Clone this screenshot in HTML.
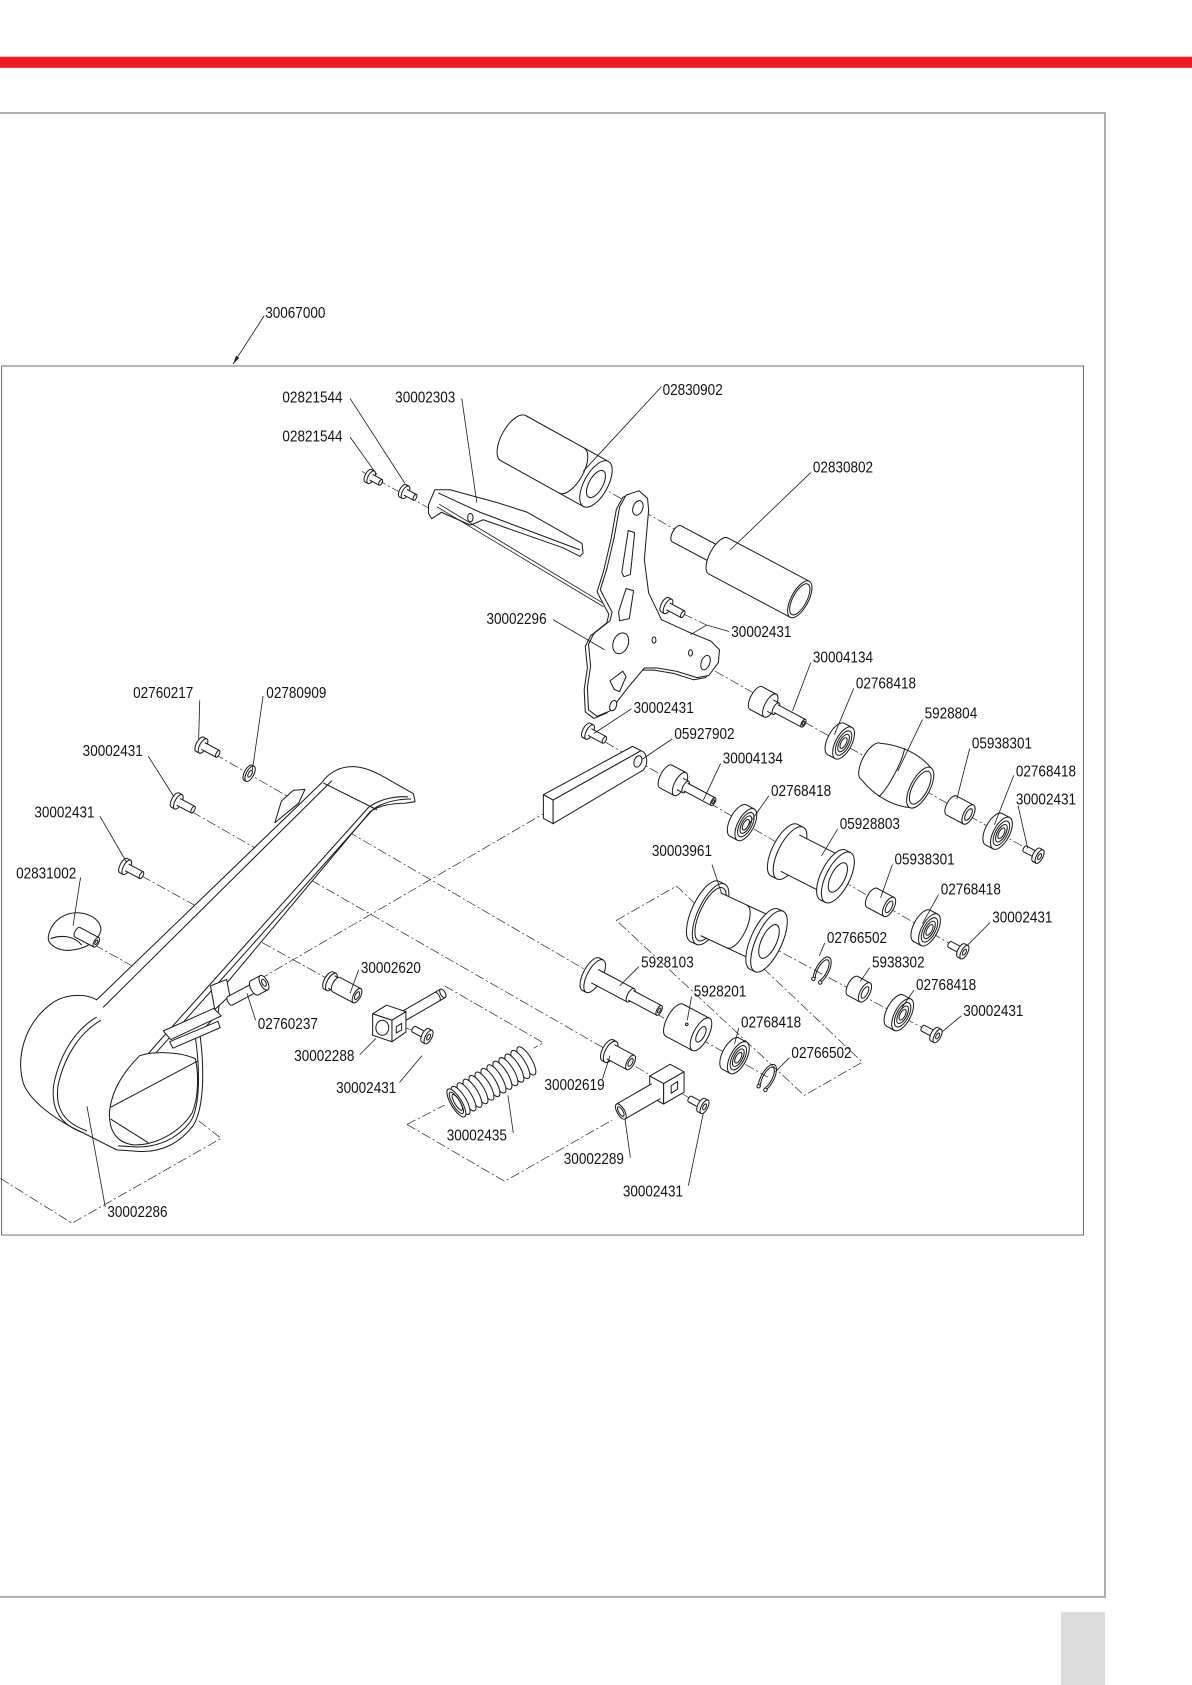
<!DOCTYPE html>
<html><head><meta charset="utf-8">
<style>
html,body{margin:0;padding:0;background:#fff;}
svg{display:block}
.d{fill:none;stroke:#2a2a2a;stroke-width:.65;stroke-dasharray:9 2.5 2 2.5}
.l{fill:none;stroke:#1a1a1a;stroke-width:.75}
text{font-family:"Liberation Sans",Arial,sans-serif;font-size:15px;fill:#111;stroke:none}
</style></head>
<body>
<svg width="1192" height="1685" viewBox="0 0 1110 1569" preserveAspectRatio="none" xmlns="http://www.w3.org/2000/svg">
<defs>
<g id="brg"><ellipse cx="-4" rx="7.5" ry="16.5"/><path d="M-4,-16.5H4V16.5H-4"/><ellipse cx="4" rx="7.5" ry="16.5"/><ellipse cx="4" rx="5.6" ry="12.5"/><ellipse cx="4" rx="3.9" ry="9" fill="none"/><ellipse cx="4" rx="2.4" ry="5.5"/></g>
<g id="scrR"><ellipse cx="-12" rx="1.4" ry="3"/><path d="M-12,-3H0V3H-12"/><ellipse rx="3" ry="7"/><path d="M0,-7H3.5V7H0"/><ellipse cx="3.5" rx="3" ry="7"/><ellipse cx="3.5" rx="1.4" ry="3"/></g>
<g id="scrL"><ellipse rx="3.2" ry="7.5"/><path d="M0,-7.5H3.5V7.5H0"/><ellipse cx="3.5" rx="3.2" ry="7.5"/><path d="M3.5,-3.5H19V3.5H3.5"/><ellipse cx="19" rx="1.5" ry="3.5"/></g>
<g id="nut"><ellipse rx="5" ry="12"/><path d="M0,-12H15V12H0"/><ellipse cx="15" rx="5" ry="12"/><path d="M15,-6H21V6H15"/><ellipse cx="21" rx="2.5" ry="6"/><path d="M21,-4H50V4H21"/><ellipse cx="50" rx="1.8" ry="4"/><ellipse cx="50" rx="0.9" ry="2"/></g>
<g id="clip"><path fill="none" d="M-3,13 A6,14 0 1 1 3,13"/><path fill="none" d="M-2.3,10 A4.3,11 0 1 1 2.3,10"/><circle cx="-3.6" cy="11.5" r="1.6"/><circle cx="3.6" cy="11.5" r="1.6"/></g>
</defs>

<!-- page furniture -->
<rect x="0" y="52.8" width="1110" height="10.4" fill="#ed1c24"/>
<rect x="-5" y="105.2" width="1034" height="1381.8" fill="none" stroke="#adadad" stroke-width="1.9"/>
<rect x="988" y="1501" width="41" height="68" fill="#dcdcdc"/>
<rect x="1.5" y="340.8" width="1007.5" height="809.2" fill="none" stroke="#555" stroke-width=".8"/>

<!-- axis / group lines -->
<path class="d" d="M337,439 L410,479"/>
<path class="d" d="M557,452 L632,495"/>
<path class="d" d="M652,617 L968,797"/>
<path class="d" d="M622,565 L658,582"/>
<path class="d" d="M550,683 L897,886"/>
<path class="d" d="M555,912 L715,1003"/>
<path class="d" d="M659,850 L872,964"/>
<path class="d" d="M578,985 L655,1030"/>
<path class="d" d="M360,950 L398,965"/>
<path class="d" d="M186,694 L552,907"/>
<path class="d" d="M165,748 L566,978"/>
<path class="d" d="M118,808 L308,913"/>
<path class="d" d="M74,872 L124,900"/>
<path class="d" d="M214,928 L509,756"/>
<path class="d" d="M574,857 L630,825 L803,989 L749,1020 Z"/>
<path class="d" d="M414,918 L506,971 L497,976 M379,1047 L414,1029 M379,1047 L470,1100 L570,1043"/>
<path class="d" d="M84,965 L206,1060 L67,1139 L0,1097"/>

<g fill="#fff" stroke="#1a1a1a" stroke-width=".95" stroke-linejoin="round">

<!-- belt guard 30002286 -->
<path d="M299.5,729 C306,719 318,713 331,714 C342,715 352,720 362,726 L385,739 L386.5,746.5 L377,748 C366,748 352,750 344.5,756 L214,912 L206,921 L203,944 L186,962 C190,990 191,1030 180,1048 C168,1064 150,1074 127,1072 L108.6,1070.7 L77.6,1055 C50,1042 28,1025 21.7,1008.7 C15,985 22,955 46,936 C58,926 78,924 90,931 Z"/>
<path fill="none" d="M301,729 L351,754"/>
<path fill="none" d="M309,727 L96,938"/>
<path fill="none" d="M383,744 C370,744 356,747 347,754 L150,975 C128,1000 112,1020 106,1035"/>
<path fill="none" d="M380,742 C366,741 352,745 343,752 L146,972 C124,997 108,1018 102,1034"/>
<path fill="none" d="M182,966 C186,995 187,1030 177,1045 C165,1060 148,1068 128,1068 L110,1067"/>
<path d="M130,983 C115,998 104,1015 102,1035 C101,1052 108,1064 124,1066 C145,1067 168,1054 179,1036 C185,1022 185,1000 182,986 C170,980 145,978 130,983 Z"/>
<path fill="none" d="M103,1031 L184,988 M103,1042 L138,1064"/>
<path fill="none" d="M90,947 C68,960 55,985 50,1010 C47,1035 58,1048 78,1055"/>
<path fill="none" d="M94,950 C72,963 59,987 54,1011 C51,1034 61,1046 81,1053"/>
<polygon points="152,960 199,939 206,946 159,968"/>
<polygon points="158,970 203,951 205,957 161,976"/>
<polygon points="196,918 211,912 214,927 200,940"/>
<polygon points="256,766 262,746 273,736 284,735 278,748"/>

<!-- knob 02831002 -->
<path d="M45,872 C48,856 62,849 74,850 C86,851 94,858 94,866 C92,876 80,884 64,885 C54,885 44,880 45,872 Z"/>
<path fill="none" d="M47,874 C58,870 70,872 76,880"/>
<g transform="translate(72,868) rotate(28)"><ellipse rx="2.2" ry="5"/><path d="M0,-5H20V5H0"/><ellipse cx="20" rx="2.2" ry="5"/><ellipse cx="20" rx="1" ry="2.3"/></g>

<!-- left screws & washer -->
<use href="#scrL" transform="translate(163,745) rotate(28)"/>
<use href="#scrL" transform="translate(115,806) rotate(28)"/>
<use href="#scrL" transform="translate(186,693) rotate(28)"/>
<g transform="translate(232,720) rotate(28)"><ellipse cx="-1" rx="3.5" ry="8"/><path d="M-1,-8H1V8H-1"/><ellipse cx="1" rx="3.5" ry="8"/><ellipse cx="1" rx="1.6" ry="3.5"/></g>

<!-- 02821544 bolts, plate 30002303 -->
<g transform="translate(343,443) rotate(28)"><ellipse rx="3" ry="6.5"/><path d="M0,-6.5H3V6.5H0"/><ellipse cx="3" rx="3" ry="6.5"/><path d="M3,-3H13V3H3"/><ellipse cx="13" rx="1.4" ry="3"/></g>
<g transform="translate(375,457) rotate(28)"><ellipse rx="3" ry="6.5"/><path d="M0,-6.5H3V6.5H0"/><ellipse cx="3" rx="3" ry="6.5"/><path d="M3,-3H13V3H3"/><ellipse cx="13" rx="1.4" ry="3"/></g>
<polygon points="405,456 419,456 463,468 491,477 542,506 543,515 540,518 524,510 450,484 438,489 411,477 402,483 399,478 399,470"/>
<path fill="none" d="M408,459 L447,477 L540,512"/>
<path class="l" d="M407,472 L562,565 M409,469.5 L563,562.5"/>
<ellipse cx="438" cy="482" rx="2.5" ry="4"/>

<!-- cylinder 02830902 -->
<g transform="translate(478,408) rotate(29)"><ellipse rx="11" ry="24"/><path d="M0,-24H88V24H0"/><path fill="none" d="M62,-24 A11,24 0 0 1 62,24"/><ellipse cx="88" rx="11" ry="24"/><ellipse cx="88" rx="6.5" ry="14"/></g>

<!-- bracket plate 30002296 -->
<polygon transform="translate(-3,2)" points="577,472 583,461 595,457 603,464 604,475 600,521 604,552 616,577 640,588 662,597 670,605 669,617 660,629 649,631 630,625 612,622 600,622 585,640 568,662 556,667 548,661 547,640 550,620 548,600 553,590 568,578 570,570 562,555 559,549 565,530 572,500"/>
<polygon points="577,472 583,461 595,457 603,464 604,475 600,521 604,552 616,577 640,588 662,597 670,605 669,617 660,629 649,631 630,625 612,622 600,622 585,640 568,662 556,667 548,661 547,640 550,620 548,600 553,590 568,578 570,570 562,555 559,549 565,530 572,500"/>
<ellipse cx="594" cy="473" rx="4.5" ry="7" transform="rotate(20 594 473)"/>
<polygon points="585,494 591,496 587,535 581,537 579,533"/>
<polygon points="583,548 590,550 586,576 577,578 576,570"/>
<ellipse cx="578" cy="599" rx="7" ry="10" transform="rotate(20 578 599)"/>
<polygon points="572,642 568,634 580,625 583,630 577,644"/>
<ellipse cx="571" cy="657" rx="3" ry="5" transform="rotate(20 571 657)"/>
<ellipse cx="609" cy="596" rx="1.8" ry="3"/>
<ellipse cx="643" cy="608" rx="1.8" ry="3"/>
<ellipse cx="657" cy="617" rx="4" ry="7" transform="rotate(20 657 617)"/>

<!-- 02830802 -->
<g transform="translate(630,497) rotate(28)"><ellipse rx="4" ry="8.5"/><path d="M0,-8.5H46V8.5H0"/><ellipse cx="44" rx="8" ry="19"/><path d="M44,-19H130V19H44"/><ellipse cx="130" rx="8" ry="19"/><ellipse cx="130" rx="6.5" ry="16" fill="none"/></g>

<use href="#scrL" transform="translate(619,563) rotate(28)"/>

<!-- upper axis row -->
<use href="#nut" transform="translate(704,650) rotate(28)"/>
<use href="#brg" transform="translate(782,690) rotate(28)"/>
<g transform="translate(811,709) rotate(28)"><ellipse rx="8" ry="19"/><path d="M0,-19 C18,-27 38,-27 52,-21 V21 C38,27 18,27 0,19"/><path fill="none" d="M22,-25.5 C26,-14 26,14 22,25.5"/><ellipse cx="52" rx="9" ry="21"/><ellipse cx="52" rx="7" ry="17"/></g>
<g transform="translate(886,750) rotate(28)"><ellipse rx="4.5" ry="10"/><path d="M0,-10H18V10H0"/><ellipse cx="18" rx="4.5" ry="10"/><ellipse cx="18" rx="2.5" ry="6"/></g>
<use href="#brg" transform="translate(929,774) rotate(28)"/>
<use href="#scrR" transform="translate(965,796) rotate(28)"/>

<!-- middle row -->
<use href="#scrL" transform="translate(546,680) rotate(28)"/>
<polygon points="506,740 589,695 597,699 515,745"/>
<path d="M515,745 L597,699 C603,701 604,712 599,717 L515,767 Z"/>
<polygon points="506,740 515,745 515,767 506,762"/>
<ellipse cx="594" cy="709" rx="3.5" ry="5.5" transform="rotate(20 594 709)"/>
<use href="#nut" transform="translate(620,723) rotate(28)"/>
<use href="#brg" transform="translate(691,766) rotate(28)"/>
<g transform="translate(733,793) rotate(27)"><ellipse cx="-3" rx="11" ry="27"/><path d="M-3,-27H3V27H-3"/><ellipse cx="3" rx="11" ry="27"/><path d="M3,-19H48V19H3"/><ellipse cx="48" rx="11" ry="26"/><path d="M48,-26H53V26H48"/><ellipse cx="53" rx="11" ry="26"/><ellipse cx="53" rx="6.5" ry="15"/></g>
<g transform="translate(812,836) rotate(28)"><ellipse rx="4.5" ry="10"/><path d="M0,-10H18V10H0"/><ellipse cx="18" rx="4.5" ry="10"/><ellipse cx="18" rx="2.5" ry="6"/></g>
<use href="#brg" transform="translate(862,864) rotate(28)"/>
<use href="#scrR" transform="translate(895,885) rotate(28)"/>

<!-- spool 30003961 row -->
<g transform="translate(659,850) rotate(25)"><ellipse cx="-3" rx="12" ry="31"/><path d="M-3,-31H3V31H-3"/><ellipse cx="3" rx="12" ry="31"/><ellipse cx="3" rx="10" ry="27" fill="none"/><path d="M3,-22H58V22H3"/><path fill="none" d="M30,-22 A9,22 0 0 1 30,22"/><ellipse cx="58" rx="12" ry="31"/><path d="M58,-31H63V31H58"/><ellipse cx="63" rx="12" ry="31"/><ellipse cx="63" rx="7" ry="17"/></g>
<use href="#clip" transform="translate(766,903) rotate(28)"/>
<g transform="translate(794,918) rotate(28)"><ellipse rx="4.5" ry="10"/><path d="M0,-10H13V10H0"/><ellipse cx="13" rx="4.5" ry="10"/><ellipse cx="13" rx="2.5" ry="6"/></g>
<use href="#brg" transform="translate(837,943) rotate(28)"/>
<use href="#scrR" transform="translate(870,963) rotate(28)"/>

<!-- 5928103 row -->
<g transform="translate(552,908) rotate(28)"><ellipse cx="-2" rx="7" ry="17"/><path d="M-2,-17H2V17H-2"/><ellipse cx="2" rx="7" ry="17"/><path d="M2,-7H40V7H2"/><ellipse cx="40" rx="3" ry="7"/><path d="M40,-5H70V5H40"/><ellipse cx="70" rx="2.2" ry="5"/><ellipse cx="70" rx="1" ry="2.5"/></g>
<g transform="translate(628,950) rotate(28)"><ellipse rx="7" ry="17"/><path d="M0,-17H28V17H0"/><ellipse cx="28" rx="7" ry="17"/><ellipse cx="28" rx="3.5" ry="8"/><circle cx="12" cy="-2" r="1.2"/></g>
<use href="#brg" transform="translate(684,983) rotate(28)"/>
<use href="#clip" transform="translate(715,1003) rotate(28)"/>

<!-- 30002619 / 30002289 / screw -->
<g transform="translate(566,978) rotate(28)"><ellipse rx="5" ry="11"/><path d="M0,-11H3V11H0"/><ellipse cx="3" rx="5" ry="11"/><path d="M3,-7.5H24V7.5H3"/><ellipse cx="24" rx="3.4" ry="7.5"/><ellipse cx="24" rx="1.8" ry="4"/></g>
<polygon points="605,1002 624,991 637,998 618,1009"/>
<polygon points="605,1002 618,1009 618,1028 605,1021"/>
<polygon points="618,1009 637,998 637,1017 618,1028"/>
<polygon points="625,1011 631,1007 631,1014 625,1018"/>
<g transform="translate(611,1016) rotate(150)"><path d="M0,-8H38V8H0"/><ellipse cx="38" rx="3.5" ry="8"/><ellipse cx="38" rx="2" ry="5"/></g>
<use href="#scrR" transform="translate(653,1029) rotate(28)"/>

<!-- 30002620, 02760237 -->
<g transform="translate(306,913) rotate(28)"><ellipse rx="4" ry="9"/><path d="M0,-9H3V9H0"/><ellipse cx="3" rx="4" ry="9"/><path d="M3,-6.5H8V6.5H3"/><ellipse cx="8" rx="3.3" ry="7.5"/><path d="M8,-7.5H30V7.5H8"/><ellipse cx="30" rx="3.3" ry="7.5"/><ellipse cx="30" rx="1.8" ry="4"/></g>
<g transform="translate(214,932) rotate(-28)"><ellipse rx="2" ry="4.5"/><path d="M0,-4.5H26V4.5H0"/><ellipse cx="26" rx="3.5" ry="7.5"/><path d="M26,-7.5H36V7.5H26"/><ellipse cx="36" rx="3.5" ry="7.5"/><ellipse cx="36" rx="1.8" ry="3.5"/></g>

<!-- 30002288 pin + block -->
<g transform="translate(376,946) rotate(-30)"><path d="M0,-4.5H42V4.5H0"/><path fill="none" d="M36,-4.5 A2,4.5 0 0 1 36,4.5"/><ellipse cx="42" rx="2.2" ry="4.5"/></g>
<polygon points="347,944 360,936 378,942 365,950"/>
<polygon points="347,944 365,950 365,970 347,964"/>
<polygon points="365,950 378,942 378,961 365,970"/>
<ellipse cx="356" cy="957" rx="6" ry="7"/>
<polygon points="369,956 374,953 374,959 369,962"/>
<use href="#scrR" transform="translate(396,964) rotate(28)"/>

<!-- spring 30002435 -->
<g transform="translate(425,1027) rotate(-31)">
<ellipse cx="76" rx="5" ry="15"/><ellipse cx="69.5" rx="5" ry="15"/><ellipse cx="63" rx="5" ry="15"/><ellipse cx="56.5" rx="5" ry="15"/><ellipse cx="50" rx="5" ry="15"/><ellipse cx="43.5" rx="5" ry="15"/><ellipse cx="37" rx="5" ry="15"/><ellipse cx="30.5" rx="5" ry="15"/><ellipse cx="24" rx="5" ry="15"/><ellipse cx="17.5" rx="5" ry="15"/><ellipse cx="11" rx="5" ry="15"/><ellipse cx="4.5" rx="5" ry="15"/><ellipse cx="0" rx="5" ry="15"/><ellipse cx="0" rx="3.5" ry="11.5"/><ellipse cx="1" rx="2.5" ry="8.5" fill="none"/>
</g>
</g>

<!-- leader lines -->
<g class="l">
<path d="M246,294 L217,339"/>
<path d="M326,371 L377,450"/>
<path d="M430,371 L444,468"/>
<path d="M326,407 L351,442"/>
<path d="M616,360 L543,439"/>
<path d="M755,440 L680,512"/>
<path d="M515,577 L563,605"/>
<path d="M679,588 L658,582 L643,591"/>
<path d="M755,617 L738,662"/>
<path d="M795,641 L777,684"/>
<path d="M859,670 L836,718"/>
<path d="M903,697 L891,744"/>
<path d="M944,722 L926,768"/>
<path d="M948,750 L957,790"/>
<path d="M588,660 L553,683"/>
<path d="M626,688 L598,707"/>
<path d="M671,711 L655,745"/>
<path d="M716,741 L697,768"/>
<path d="M780,772 L765,797"/>
<path d="M663,805 L672,832"/>
<path d="M831,805 L820,836"/>
<path d="M874,833 L859,860"/>
<path d="M922,859 L901,880"/>
<path d="M768,878 L763,890"/>
<path d="M810,901 L801,914"/>
<path d="M851,922 L840,938"/>
<path d="M895,946 L877,961"/>
<path d="M595,900 L577,918"/>
<path d="M644,928 L640,950"/>
<path d="M688,957 L684,972"/>
<path d="M735,985 L722,998"/>
<path d="M561,1005 L568,983"/>
<path d="M587,1078 L582,1042"/>
<path d="M641,1104 L655,1036"/>
<path d="M334,903 L326,925"/>
<path d="M238,950 L230,925"/>
<path d="M335,982 L350,967"/>
<path d="M372,1008 L393,983"/>
<path d="M478,1055 L473,1020"/>
<path d="M98,1124 L81,1030"/>
<path d="M75,817 L68,862"/>
<path d="M93,760 L118,803"/>
<path d="M138,704 L162,742"/>
<path d="M186,652 L185,688"/>
<path d="M245,648 L235,717"/>
</g>
<polygon points="217,339 222.8,333.3 219.8,331.3" fill="#222"/>

<!-- labels -->
<g>
<text x="247" y="296" textLength="56" lengthAdjust="spacingAndGlyphs">30067000</text>
<text x="263" y="375" textLength="56" lengthAdjust="spacingAndGlyphs">02821544</text>
<text x="368" y="375" textLength="56" lengthAdjust="spacingAndGlyphs">30002303</text>
<text x="263" y="411" textLength="56" lengthAdjust="spacingAndGlyphs">02821544</text>
<text x="617" y="368" textLength="56" lengthAdjust="spacingAndGlyphs">02830902</text>
<text x="757" y="440" textLength="56" lengthAdjust="spacingAndGlyphs">02830802</text>
<text x="453" y="581" textLength="56" lengthAdjust="spacingAndGlyphs">30002296</text>
<text x="681" y="593" textLength="56" lengthAdjust="spacingAndGlyphs">30002431</text>
<text x="757" y="617" textLength="56" lengthAdjust="spacingAndGlyphs">30004134</text>
<text x="797" y="641" textLength="56" lengthAdjust="spacingAndGlyphs">02768418</text>
<text x="861" y="669" textLength="49" lengthAdjust="spacingAndGlyphs">5928804</text>
<text x="905" y="697" textLength="56" lengthAdjust="spacingAndGlyphs">05938301</text>
<text x="946" y="723" textLength="56" lengthAdjust="spacingAndGlyphs">02768418</text>
<text x="946" y="749" textLength="56" lengthAdjust="spacingAndGlyphs">30002431</text>
<text x="590" y="664" textLength="56" lengthAdjust="spacingAndGlyphs">30002431</text>
<text x="628" y="688" textLength="56" lengthAdjust="spacingAndGlyphs">05927902</text>
<text x="673" y="711" textLength="56" lengthAdjust="spacingAndGlyphs">30004134</text>
<text x="718" y="741" textLength="56" lengthAdjust="spacingAndGlyphs">02768418</text>
<text x="782" y="772" textLength="56" lengthAdjust="spacingAndGlyphs">05928803</text>
<text x="607" y="797" textLength="56" lengthAdjust="spacingAndGlyphs">30003961</text>
<text x="833" y="805" textLength="56" lengthAdjust="spacingAndGlyphs">05938301</text>
<text x="876" y="833" textLength="56" lengthAdjust="spacingAndGlyphs">02768418</text>
<text x="924" y="859" textLength="56" lengthAdjust="spacingAndGlyphs">30002431</text>
<text x="770" y="878" textLength="56" lengthAdjust="spacingAndGlyphs">02766502</text>
<text x="812" y="901" textLength="49" lengthAdjust="spacingAndGlyphs">5938302</text>
<text x="853" y="922" textLength="56" lengthAdjust="spacingAndGlyphs">02768418</text>
<text x="897" y="946" textLength="56" lengthAdjust="spacingAndGlyphs">30002431</text>
<text x="597" y="901" textLength="49" lengthAdjust="spacingAndGlyphs">5928103</text>
<text x="646" y="928" textLength="49" lengthAdjust="spacingAndGlyphs">5928201</text>
<text x="690" y="957" textLength="56" lengthAdjust="spacingAndGlyphs">02768418</text>
<text x="737" y="985" textLength="56" lengthAdjust="spacingAndGlyphs">02766502</text>
<text x="507" y="1015" textLength="56" lengthAdjust="spacingAndGlyphs">30002619</text>
<text x="525" y="1084" textLength="56" lengthAdjust="spacingAndGlyphs">30002289</text>
<text x="580" y="1114" textLength="56" lengthAdjust="spacingAndGlyphs">30002431</text>
<text x="336" y="906" textLength="56" lengthAdjust="spacingAndGlyphs">30002620</text>
<text x="240" y="958" textLength="56" lengthAdjust="spacingAndGlyphs">02760237</text>
<text x="274" y="988" textLength="56" lengthAdjust="spacingAndGlyphs">30002288</text>
<text x="313" y="1018" textLength="56" lengthAdjust="spacingAndGlyphs">30002431</text>
<text x="416" y="1062" textLength="56" lengthAdjust="spacingAndGlyphs">30002435</text>
<text x="100" y="1133" textLength="56" lengthAdjust="spacingAndGlyphs">30002286</text>
<text x="15" y="818" textLength="56" lengthAdjust="spacingAndGlyphs">02831002</text>
<text x="32" y="761" textLength="56" lengthAdjust="spacingAndGlyphs">30002431</text>
<text x="77" y="704" textLength="56" lengthAdjust="spacingAndGlyphs">30002431</text>
<text x="124" y="650" textLength="56" lengthAdjust="spacingAndGlyphs">02760217</text>
<text x="248" y="650" textLength="56" lengthAdjust="spacingAndGlyphs">02780909</text>
</g>
</svg>
</body></html>
